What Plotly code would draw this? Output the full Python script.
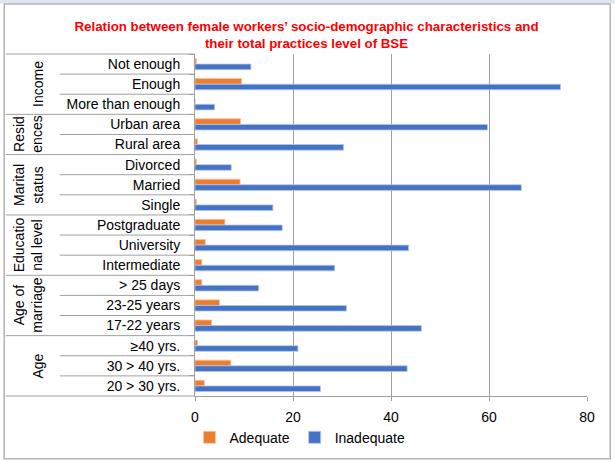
import plotly.graph_objects as go

# ---- data ----
groups = ["Income", "Resid<br>ences", "Marital<br>status", "Educatio<br>nal level", "Age of<br>marriage", "Age"]
group_sizes = [3, 2, 3, 3, 3, 3]
categories = ["Not enough", "Enough", "More than enough",
              "Urban area", "Rural area",
              "Divorced", "Married", "Single",
              "Postgraduate", "University", "Intermediate",
              "> 25 days", "23-25 years", "17-22 years",
              "≥40 yrs.", "30 > 40 yrs.", "20 > 30 yrs."]
adequate = [0.3, 9.5, 0.0, 9.3, 0.5, 0.3, 9.2, 0.3, 6.1, 2.1, 1.4, 1.4, 5.0, 3.4, 0.5, 7.3, 1.9]
inadequate = [11.4, 74.6, 4.0, 59.7, 30.3, 7.4, 66.6, 15.9, 17.8, 43.6, 28.5, 13.0, 30.9, 46.2, 21.0, 43.3, 25.6]
x_ticks = [0, 20, 40, 60, 80]

title = "Relation between female workers’ socio-demographic characteristics and<br>their total practices level of BSE"

# ---- layout geometry (pixels) ----
W, H = 615, 462
L, R, T, B = 195.3, 587.3, 54, 395.7
pw, ph = R - L, B - T
n = len(categories)

def px_x(p):
    return (p - L) / pw

def px_y(p):
    return (B - p) / ph

def idx_y(b):
    # paper y of a (fractional) category index, top category index 0
    return (n - 0.5 - b) / n

GRID = "#a0a0a0"
FONT = "Liberation Sans"

fig = go.Figure()
fig.add_trace(go.Bar(name="Adequate", y=categories, x=adequate, orientation="h",
                     marker=dict(color="#ED7D31", line=dict(color="#f6c3a0", width=0.8))))
fig.add_trace(go.Bar(name="Inadequate", y=categories, x=inadequate, orientation="h",
                     marker=dict(color="#4472C4", line=dict(color="#b4c7e7", width=0.8))))

shapes = []
# top strip of page
shapes.append(dict(type="rect", xref="paper", yref="paper", x0=px_x(0), x1=px_x(W), y0=px_y(0), y1=px_y(3.5),
                   fillcolor="#dce6f2", line=dict(width=0), layer="below"))
# chart border
shapes.append(dict(type="rect", xref="paper", yref="paper", x0=px_x(4.5), x1=px_x(610.5), y0=px_y(458.5), y1=px_y(4),
                   line=dict(color="#b4b4b4", width=1.5), fillcolor="rgba(0,0,0,0)", layer="below"))

annotations = []
start = 0
for g, size in zip(groups, group_sizes):
    # group separator (top boundary of group)
    shapes.append(dict(type="line", xref="paper", yref="paper", x0=px_x(6), x1=0,
                       y0=idx_y(start - 0.5), y1=idx_y(start - 0.5), line=dict(color=GRID, width=1)))
    for k in range(1, size):
        b = start + k - 0.5
        shapes.append(dict(type="line", xref="paper", yref="paper", x0=px_x(60), x1=0,
                           y0=idx_y(b), y1=idx_y(b), line=dict(color=GRID, width=1)))
    lines = g.count("<br>") + 1
    cx = 38 if lines == 1 else 28.5
    annotations.append(dict(text=g, xref="paper", yref="paper", x=px_x(cx),
                            y=idx_y(start + (size - 1) / 2), textangle=-90, showarrow=False,
                            xanchor="center", yanchor="middle", align="center",
                            font=dict(family=FONT, size=14, color="black")))
    start += size
# bottom line of table
shapes.append(dict(type="line", xref="paper", yref="paper", x0=px_x(6), x1=0,
                   y0=idx_y(n - 0.5), y1=idx_y(n - 0.5), line=dict(color=GRID, width=1)))

fig.update_layout(
    width=W, height=H,
    margin=dict(l=L, r=W - R, t=T, b=H - B, pad=0),
    paper_bgcolor="white", plot_bgcolor="white",
    font=dict(family=FONT, size=14, color="black"),
    barmode="group", bargap=0.44, bargroupgap=0,
    title=dict(text=title, x=306.5 / W, xanchor="center", xref="container",
               y=1 - 30.5 / H, yanchor="middle", yref="container",
               font=dict(family=FONT, size=13.3, color="#FF0000", weight="bold")),
    xaxis=dict(range=[0, 80], tickvals=x_ticks, showgrid=True, gridcolor=GRID, gridwidth=1,
               zeroline=False, showline=True, linecolor=GRID, linewidth=1, automargin=False,
               ticks="outside", ticklen=4, tickcolor=GRID, ticklabelstandoff=4,
               tickfont=dict(size=14, color="black")),
    yaxis=dict(type="category", categoryorder="array", categoryarray=categories,
               range=[n - 0.5, -0.5], showgrid=False, zeroline=False, automargin=False,
               showline=True, linecolor=GRID, linewidth=1,
               ticks="outside", ticklen=5, tickcolor=GRID, tickson="boundaries",
               ticklabelstandoff=11, tickfont=dict(size=14, color="black")),
    legend=dict(orientation="h", xref="container", yref="container", x=300 / W, y=(H - 437.7) / H,
                xanchor="center", yanchor="middle", font=dict(size=14, color="black"),
                traceorder="normal"),
    shapes=shapes, annotations=annotations,
)

fig.write_html("out.html", config={"displayModeBar": False},
               post_script="document.body.style.margin='0';")
